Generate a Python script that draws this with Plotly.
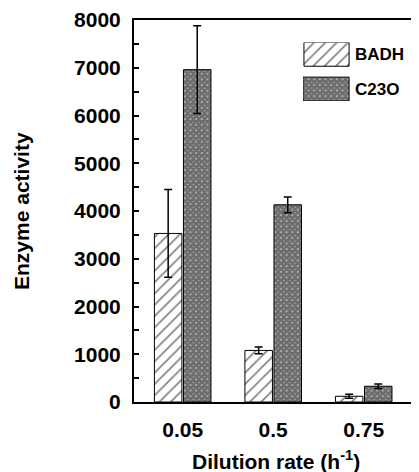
import plotly.graph_objects as go

dilution = ["0.05", "0.5", "0.75"]
badh = [3530, 1080, 120]
badh_err = [920, 70, 42]
c23o = [6960, 4130, 330]
c23o_err = [920, 165, 48]
series_names = ["BADH", "C23O"]

xpos = list(range(len(dilution)))
FONT = "Liberation Sans, Arial, sans-serif"

badh_pattern = dict(shape="/", size=8, solidity=0.2, fgcolor="black", bgcolor="white", fillmode="overlay")
c23o_pattern = dict(shape="x", size=4, solidity=0.9, fgcolor="black", bgcolor="#dddddd", fillmode="overlay")

fig = go.Figure()
fig.add_trace(go.Bar(
    x=xpos, y=badh, name=series_names[0],
    marker=dict(color="white", pattern=badh_pattern, line=dict(color="black", width=1)),
    error_y=dict(type="data", array=badh_err, visible=True, color="black", thickness=1.5, width=4),
    showlegend=False,
))
fig.add_trace(go.Bar(
    x=xpos, y=c23o, name=series_names[1],
    marker=dict(color="white", pattern=c23o_pattern, line=dict(color="black", width=1)),
    error_y=dict(type="data", array=c23o_err, visible=True, color="black", thickness=1.5, width=4),
    showlegend=False,
))

# legend swatches on a small auxiliary axis
fig.add_trace(go.Bar(
    x=[0], y=[0.407], base=[0.593], width=[0.96], offset=0.02,
    marker=dict(color="white", pattern=badh_pattern, line=dict(color="black", width=1)),
    xaxis="x2", yaxis="y2", showlegend=False, hoverinfo="skip",
))
fig.add_trace(go.Bar(
    x=[0], y=[0.407], base=[0.0], width=[0.98], offset=0.0,
    marker=dict(color="white", pattern=c23o_pattern, line=dict(color="black", width=1)),
    xaxis="x2", yaxis="y2", showlegend=False, hoverinfo="skip",
))

# page body has an 8px margin, so the figure is sized/offset to compensate
fig.update_layout(
    width=411, height=464,
    margin=dict(l=126, r=0, t=10, b=70),
    paper_bgcolor="white", plot_bgcolor="white",
    barmode="group", bargap=0.358, bargroupgap=0.053,
    font=dict(family=FONT, color="black", size=21),
    xaxis=dict(
        range=[-0.538, 2.611], tickvals=xpos, ticktext=dilution,
        showline=True, linecolor="black", linewidth=2, mirror=True,
        ticks="", showgrid=False, zeroline=False,
        tickfont=dict(family=FONT, size=21, color="black", weight="bold"),
        ticklabelstandoff=8,
    ),
    yaxis=dict(
        range=[0, 8000], dtick=1000, tick0=0,
        showline=True, linecolor="black", linewidth=2,
        ticks="inside", ticklen=5, tickwidth=2, tickcolor="black",
        minor=dict(dtick=500, ticks="inside", ticklen=5, tickwidth=2, tickcolor="black", showgrid=False),
        showgrid=False, zeroline=False,
        tickfont=dict(family=FONT, size=21, color="black", weight="bold"),
        ticklabelstandoff=7, ticklabeloverflow="allow",
    ),
    xaxis2=dict(domain=[0.593, 0.758], range=[0, 1], visible=False, anchor="y2"),
    yaxis2=dict(domain=[0.788, 0.9414], range=[0, 1], visible=False, anchor="x2"),
    annotations=[
        dict(text="Enzyme activity", xref="paper", yref="paper", x=0, y=0.5,
             xshift=-113, textangle=-90, showarrow=False, xanchor="center", yanchor="middle",
             font=dict(family=FONT, size=21, color="black", weight="bold")),
        dict(text="Dilution rate (h<sup>-1</sup>)", xref="paper", yref="paper", x=(276 - 134) / 285, y=0,
             yshift=-43, showarrow=False, xanchor="center", yanchor="top",
             font=dict(family=FONT, size=21, color="black", weight="bold")),
        dict(text="BADH", xref="paper", yref="paper", x=(353 - 134) / 285, y=(401.7 - 52) / 384.2,
             showarrow=False, xanchor="left", yanchor="middle",
             font=dict(family=FONT, size=17, color="black", weight="bold")),
        dict(text="C23O", xref="paper", yref="paper", x=(353 - 134) / 285, y=(401.7 - 87) / 384.2,
             showarrow=False, xanchor="left", yanchor="middle",
             font=dict(family=FONT, size=17, color="black", weight="bold")),
    ],
)

fig.write_html("out.html")
